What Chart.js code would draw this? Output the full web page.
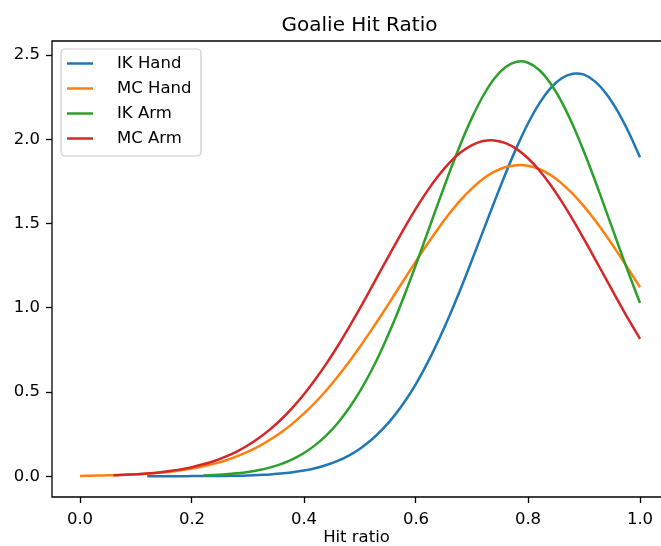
<!DOCTYPE html>
<html>
<head>
<meta charset="utf-8">
<script src="https://cdn.jsdelivr.net/npm/chart.js@4.4.1/dist/chart.umd.min.js"></script>
<style>
  html, body { margin: 0; padding: 0; background: #fff; overflow: hidden; }
  #wrap { width: 661px; height: 546px; }
</style>
</head>
<body>
<div id="wrap"><canvas id="hitChart" width="661" height="546"></canvas></div>
<script>
// === Data ===
const hitRatio = [
  0.00, 0.02, 0.04, 0.06, 0.08, 0.10, 0.12, 0.14, 0.16, 0.18,
  0.20, 0.22, 0.24, 0.26, 0.28, 0.30, 0.32, 0.34, 0.36, 0.38,
  0.40, 0.42, 0.44, 0.46, 0.48, 0.50, 0.52, 0.54, 0.56, 0.58,
  0.60, 0.62, 0.64, 0.66, 0.68, 0.70, 0.72, 0.74, 0.76, 0.78,
  0.80, 0.82, 0.84, 0.86, 0.88, 0.90, 0.92, 0.94, 0.96, 0.98, 1.00
];

const ikHand = [
  null, null, null, null, null, null, 0.000, 0.000, 0.000, 0.000,
  0.001, 0.001, 0.001, 0.002, 0.003, 0.005, 0.008, 0.011, 0.017, 0.024,
  0.034, 0.048, 0.067, 0.091, 0.123, 0.164, 0.215, 0.278, 0.354, 0.444,
  0.549, 0.670, 0.806, 0.955, 1.115, 1.284, 1.457, 1.630, 1.798, 1.954,
  2.094, 2.212, 2.303, 2.363, 2.390, 2.384, 2.343, 2.270, 2.168, 2.041, 1.894
];

const mcHand = [
  0.002, 0.003, 0.005, 0.006, 0.009, 0.012, 0.016, 0.021, 0.027, 0.036,
  0.046, 0.059, 0.075, 0.094, 0.118, 0.146, 0.179, 0.218, 0.263, 0.314,
  0.373, 0.438, 0.511, 0.591, 0.677, 0.769, 0.866, 0.966, 1.070, 1.174,
  1.277, 1.377, 1.473, 1.561, 1.641, 1.709, 1.766, 1.808, 1.836, 1.847,
  1.844, 1.824, 1.789, 1.739, 1.676, 1.602, 1.518, 1.426, 1.328, 1.226, 1.122
];

const ikArm = [
  null, null, null, null, null, null, null, null, null, null,
  null, 0.005, 0.008, 0.012, 0.018, 0.026, 0.037, 0.053, 0.074, 0.102,
  0.138, 0.185, 0.243, 0.315, 0.402, 0.505, 0.625, 0.762, 0.914, 1.081,
  1.257, 1.441, 1.626, 1.806, 1.976, 2.129, 2.259, 2.361, 2.429, 2.461,
  2.455, 2.412, 2.333, 2.223, 2.086, 1.927, 1.753, 1.570, 1.385, 1.203, 1.029
];

const mcArm = [
  null, null, null, 0.006, 0.009, 0.012, 0.017, 0.023, 0.031, 0.041,
  0.054, 0.071, 0.091, 0.117, 0.147, 0.184, 0.229, 0.280, 0.340, 0.409,
  0.487, 0.574, 0.669, 0.772, 0.883, 0.998, 1.118, 1.240, 1.360, 1.478,
  1.590, 1.693, 1.784, 1.862, 1.923, 1.966, 1.990, 1.994, 1.978, 1.942,
  1.888, 1.817, 1.731, 1.632, 1.524, 1.408, 1.288, 1.167, 1.046, 0.928, 0.816
];

const seriesNames = ["IK Hand", "MC Hand", "IK Arm", "MC Arm"];
const seriesValues = [ikHand, mcHand, ikArm, mcArm];
const seriesColors = ["#1f77b4", "#ff7f0e", "#2ca02c", "#d62728"];

const FONT = "'DejaVu Sans', 'Liberation Sans', sans-serif";

// matplotlib-like spines, title and legend box
// (the right spine lies just past the picture's edge, so it is not drawn)
const mplDecor = {
  id: "mplDecor",
  afterDraw(chart) {
    const { ctx, chartArea: a } = chart;
    ctx.save();

    ctx.strokeStyle = "#000";
    ctx.lineWidth = 1.3;
    ctx.beginPath();
    ctx.moveTo(chart.width, a.top);
    ctx.lineTo(a.left, a.top);
    ctx.lineTo(a.left, a.bottom);
    ctx.lineTo(chart.width, a.bottom);
    ctx.stroke();

    // title
    ctx.fillStyle = "#000";
    ctx.font = "20px " + FONT;
    ctx.textAlign = "center";
    ctx.textBaseline = "alphabetic";
    ctx.fillText("Goalie Hit Ratio", 359.5, 30.5);

    // legend
    const bx = a.left + 9, by = a.top + 8, bw = 140, bh = 107, r = 4;
    ctx.beginPath();
    ctx.moveTo(bx + r, by);
    ctx.arcTo(bx + bw, by, bx + bw, by + bh, r);
    ctx.arcTo(bx + bw, by + bh, bx, by + bh, r);
    ctx.arcTo(bx, by + bh, bx, by, r);
    ctx.arcTo(bx, by, bx + bw, by, r);
    ctx.closePath();
    ctx.fillStyle = "rgba(255,255,255,0.8)";
    ctx.fill();
    ctx.strokeStyle = "#cccccc";
    ctx.lineWidth = 1.2;
    ctx.stroke();

    ctx.font = "16.5px " + FONT;
    ctx.textAlign = "left";
    ctx.textBaseline = "middle";
    chart.data.datasets.forEach((ds, i) => {
      const y = by + 14.5 + i * 25;
      ctx.strokeStyle = ds.borderColor;
      ctx.lineWidth = 2.5;
      ctx.beginPath();
      ctx.moveTo(bx + 6, y);
      ctx.lineTo(bx + 32, y);
      ctx.stroke();
      ctx.fillStyle = "#000";
      ctx.fillText(ds.label, bx + 56, y);
    });

    ctx.restore();
  }
};

new Chart(document.getElementById("hitChart"), {
  type: "line",
  data: {
    datasets: seriesNames.map((name, i) => ({
      label: name,
      data: hitRatio.map((x, j) => ({ x: x, y: seriesValues[i][j] })),
      borderColor: seriesColors[i],
      borderWidth: 2.5,
      pointRadius: 0,
      fill: false,
      tension: 0.3,
      order: seriesNames.length - i
    }))
  },
  options: {
    responsive: false,
    animation: false,
    layout: { padding: { top: 41, right: 0, left: 0, bottom: 0 } },
    plugins: {
      legend: { display: false },
      tooltip: { enabled: false }
    },
    scales: {
      x: {
        type: "linear",
        min: -0.05,
        max: 1.0375,   // matplotlib goes to 1.05, the image is cut at 661px
        afterFit: s => { s.height = 49; },
        ticks: {
          stepSize: 0.2,
          includeBounds: false,
          autoSkip: false,
          maxRotation: 0,
          padding: 7,
          color: "#000",
          font: { family: FONT, size: 16.5 },
          callback: v => Number(v).toFixed(1)
        },
        grid: { drawOnChartArea: false, tickLength: 6, tickColor: "#000", tickWidth: 1.3 },
        border: { display: false },
        title: {
          display: true,
          text: "Hit ratio",
          color: "#000",
          padding: 0,
          font: { family: FONT, size: 16.5, lineHeight: 1 }
        }
      },
      y: {
        type: "linear",
        min: -0.123,
        max: 2.584,
        afterFit: s => { s.width = 52; },
        ticks: {
          stepSize: 0.5,
          includeBounds: false,
          padding: 6,
          color: "#000",
          font: { family: FONT, size: 16.5 },
          callback: v => Number(v).toFixed(1)
        },
        grid: { drawOnChartArea: false, tickLength: 6, tickColor: "#000", tickWidth: 1.3 },
        border: { display: false }
      }
    }
  },
  plugins: [mplDecor]
});
</script>
</body>
</html>
